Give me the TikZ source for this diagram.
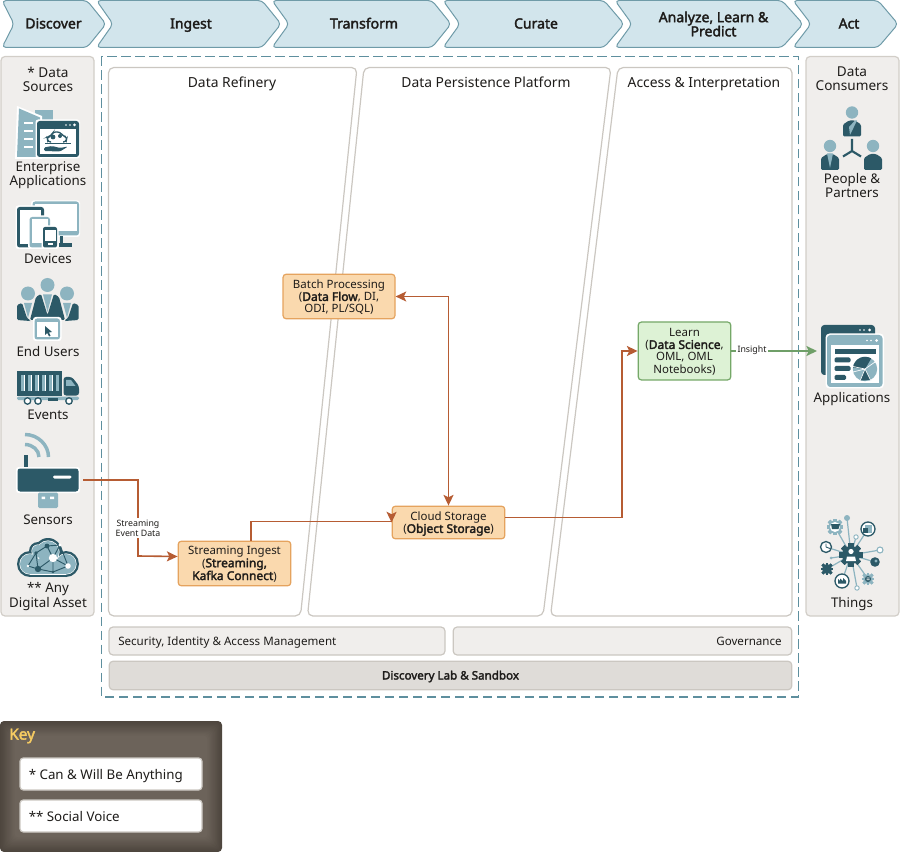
\documentclass[tikz,border=0pt]{standalone}
\usepackage{fontspec}
\setmainfont{Noto Sans}[BoldFont={Noto Sans},BoldFeatures={FakeBold=2.4}]
\usetikzlibrary{arrows.meta,calc}
\definecolor{chevfill}{HTML}{D2E5EC}
\definecolor{chevline}{HTML}{6F9BA8}
\definecolor{panelfill}{HTML}{F0EEEC}
\definecolor{panelline}{HTML}{D2CEC8}
\definecolor{darkteal}{HTML}{2C5967}
\definecolor{lightteal}{HTML}{8DB4C0}
\definecolor{dashteal}{HTML}{5E8F9E}
\definecolor{labfill}{HTML}{DFDCD8}
\definecolor{zoneline}{HTML}{CBC7C1}
\definecolor{orfill}{HTML}{FAD9AE}
\definecolor{orline}{HTML}{E5A35E}
\definecolor{grfill}{HTML}{DDF2D5}
\definecolor{grline}{HTML}{75A868}
\definecolor{arrowor}{HTML}{B65C33}
\definecolor{arrowgr}{HTML}{6F9F68}
\definecolor{keyout}{HTML}{4E463E}
\definecolor{keyin}{HTML}{6C635A}
\definecolor{keygold}{HTML}{F6CB62}
\definecolor{inktext}{HTML}{1E1C1A}
\newcommand{\downtext}[1]{\raisebox{-1.1pt}[\height][\depth]{\begin{tabular}{@{}c@{}}#1\end{tabular}}}
\newcommand{\boxbold}[1]{{\fontsize{9}{9}\selectfont\bfseries #1}}
\tikzset{
  chevron/.style={draw=chevline,fill=chevfill,line width=0.75pt,rounded corners=3pt,line join=round},
  chevtext/.style={font=\fontsize{10.5}{10.6}\selectfont\bfseries,align=center,inner sep=0pt,text=inktext},
  sidepanel/.style={draw=panelline,fill=panelfill,line width=0.9pt,rounded corners=3pt},
  zone/.style={draw=zoneline,fill=white,line width=0.9pt,rounded corners=4pt},
  zonetitle/.style={font=\fontsize{10.4}{11}\selectfont,inner sep=0pt,text=inktext,anchor=base},
  sidetitle/.style={font=\fontsize{10.2}{10.6}\selectfont,align=center,inner sep=0pt,text=inktext},
  iconlabel/.style={font=\fontsize{10}{10.6}\selectfont,align=center,inner sep=0pt,text=inktext},
  iconbase/.style={iconlabel,anchor=base},
  procbox/.style={draw=orline,fill=orfill,line width=0.9pt,rounded corners=2.5pt,inner sep=0pt,align=center,
     font=\fontsize{8.6}{9}\selectfont,text=inktext},
  learnbox/.style={procbox,draw=grline,fill=grfill},
  barbox/.style={draw=zoneline,fill=panelfill,line width=0.9pt,rounded corners=3pt,inner sep=0pt},
  bartext/.style={inner sep=0pt,font=\fontsize{8.7}{10}\selectfont,text=inktext,text height=6pt,text depth=0pt},
  labbox/.style={barbox,fill=labfill,font=\fontsize{8.7}{10}\selectfont\bfseries,text=inktext,text height=6pt,text depth=0pt},
  keybox/.style={draw=zoneline,fill=white,line width=0.9pt,rounded corners=2.5pt,inner sep=0pt},
  keytext/.style={anchor=west,inner sep=0pt,font=\fontsize{10}{11}\selectfont,text=inktext,text height=7.5pt,text depth=0pt},
  flow/.style={draw=arrowor,line width=1.2pt,-{Stealth[length=8pt,width=7.5pt,inset=1.8pt]}},
  flowtwo/.style={draw=arrowor,line width=1.2pt,{Stealth[length=8pt,width=7.5pt,inset=1.8pt]}-{Stealth[length=8pt,width=7.5pt,inset=1.8pt]}},
  flowgreen/.style={draw=arrowgr,line width=1.2pt,-{Stealth[length=8pt,width=7.5pt,inset=1.8pt]}},
  flowtag/.style={fill=white,inner sep=1pt,font=\fontsize{6.6}{7.4}\selectfont,align=center,text=inktext},
  dk/.style={fill=darkteal,draw=none},
  lt/.style={fill=lightteal,draw=none},
  wh/.style={fill=white,draw=none},
}
\newcommand{\headbody}[3]{%
  \fill[lt] (#1,#2) circle[radius=6.2];
  \fill[#3,rounded corners=1pt] (#1-9,#2+24) -- (#1-9,#2+12) -- (#1-3,#2+8) -- (#1+3,#2+8) -- (#1+9,#2+12) -- (#1+9,#2+24) -- cycle;
}
\newcommand{\gearshape}[4]{%
  \foreach \g in {0,45,...,315}{
    \fill[#4,shift={(#1,#2)},rotate=\g] (-#3*.28,-#3*1.28) rectangle (#3*.28,#3*1.28);
  }
  \fill[#4] (#1,#2) circle[radius=#3];
}
\newcommand{\cloudlayer}[2]{%
  \fill[#2] (30,564) circle[radius=13-#1] (66,564) circle[radius=13-#1] (48,552) circle[radius=14-#1] (38,551) circle[radius=9-#1];
  \fill[#2] (30,556+#1) rectangle (66,577-#1);
}
\begin{document}
\begin{tikzpicture}[x=0.75pt,y=-0.75pt]
\useasboundingbox (0,0) rectangle (900,852);
% chevrons
\draw[chevron] (2,0.5) -- (87,0.5) -- (106,24) -- (87,47.5) -- (2,47.5) -- (14,24) -- cycle;
\draw[chevron] (96.5,0.5) -- (262,0.5) -- (281,24) -- (262,47.5) -- (96.5,47.5) -- (113,24) -- cycle;
\draw[chevron] (272,0.5) -- (432,0.5) -- (451,24) -- (432,47.5) -- (272,47.5) -- (289,24) -- cycle;
\draw[chevron] (443,0.5) -- (604,0.5) -- (624,24) -- (604,47.5) -- (443,47.5) -- (460,24) -- cycle;
\draw[chevron] (615,0.5) -- (782,0.5) -- (803,24) -- (782,47.5) -- (615,47.5) -- (632,24) -- cycle;
\draw[chevron] (793,0.5) -- (878,0.5) -- (898,24) -- (878,47.5) -- (793,47.5) -- (811,24) -- cycle;
\node[chevtext,anchor=base] (tdiscover) at (53.5,28.5) {Discover};
\node[chevtext,anchor=base] (tingest) at (191,28.5) {Ingest};
\node[chevtext,anchor=base] (ttransform) at (364,28.5) {Transform};
\node[chevtext,anchor=base] (tcurate) at (536,28.5) {Curate};
\node[chevtext] (tanalyze) at (713.5,24) {Analyze, Learn \&\\Predict};
\node[chevtext,anchor=base] (tact) at (849,28.5) {Act};
% side panels
\draw[sidepanel] (1,56.5) rectangle (94,616);
\draw[sidepanel] (806,56.5) rectangle (899,616);
\node[sidetitle] (tsources) at (48,79) {* Data\\Sources};
\node[sidetitle] (tconsumers) at (852,79) {Data\\Consumers};
% dashed frame
\draw[dashteal,line width=0.85pt,dash pattern=on 7pt off 3.5pt] (101.5,56.5) rectangle (798.5,697);
% zones
\draw[zone] (108.5,67.5) -- (357,67.5) -- (300.5,616) -- (108.5,616) -- cycle;
\draw[zone] (364,67.5) -- (611,67.5) -- (543,616) -- (307.5,616) -- cycle;
\draw[zone] (618,67.5) -- (792,67.5) -- (792,616) -- (550.5,616) -- cycle;
\node[zonetitle] (trefinery) at (232,87.5) {Data Refinery};
\node[zonetitle] (tpersist) at (486,87.5) {Data Persistence Platform};
\node[zonetitle] (taccess) at (704,87.5) {Access \& Interpretation};
% bars
\node[barbox,minimum width=252pt,minimum height=21pt] (secbar) at (277,641) {};
\node[bartext,anchor=west] (sectext) at (118,641) {Security, Identity \& Access Management};
\node[barbox,minimum width=254pt,minimum height=21pt] (govbar) at (622.5,641) {};
\node[bartext,anchor=east] (govtext) at (782,641) {Governance};
\node[labbox,minimum width=512pt,minimum height=21.5pt] (labbar) at (450.5,675.5) {Discovery Lab \& Sandbox};
% key
\fill[keyout,rounded corners=3pt] (0,721) rectangle (222,852);
\foreach \i in {1,...,12}{
  \pgfmathtruncatemacro{\mixv}{\i*100/12}
  \fill[keyin!\mixv!keyout,rounded corners=3pt] (\i*1.2,721+\i*1.2) rectangle (222-\i*1.2,852-\i*1.2);
}
\node[anchor=west,inner sep=0pt,text=keygold,font=\fontsize{11.5}{12}\selectfont\bfseries] (tkey) at (9,736) {Key};
\node[keybox,minimum width=136.5pt,minimum height=24pt] (keya) at (111,774) {};
\node[keytext] (keyatext) at (28.5,774) {* Can \& Will Be Anything};
\node[keybox,minimum width=136.5pt,minimum height=24pt] (keyb) at (111,816) {};
\node[keytext] (keybtext) at (28.5,816) {** Social Voice};
% process boxes
\node[procbox,minimum width=84pt,minimum height=33.5pt] (batch) at (339,296.5) {\downtext{Batch Processing\\(\boxbold{Data Flow}, DI,\\ODI, PL/SQL)}};
\node[procbox,minimum width=84.5pt,minimum height=33.5pt] (ingest) at (234.5,563.5) {\downtext{Streaming Ingest\\(\boxbold{Streaming,}\\\boxbold{Kafka Connect})}};
\node[procbox,minimum width=84.5pt,minimum height=24.5pt] (cloud) at (448.5,522.5) {\downtext{Cloud Storage\\(\boxbold{Object Storage})}};
\node[learnbox,minimum width=69.5pt,minimum height=43.5pt] (learn) at (684.5,351) {\downtext{Learn\\(\boxbold{Data Science},\\OML, OML\\Notebooks)}};
% ICONS ------------------------------------------------
% enterprise applications
\fill[lt] (35,110) rectangle (53,140);
\fill[wh] (17,106) -- (42,116) -- (42,159) -- (15,159) -- cycle;
\fill[lt] (19,108.5) -- (40,117.5) -- (40,157) -- (17,157) -- cycle;
\foreach \yy in {122,130,138,146}{\fill[wh] (24,\yy) rectangle (33,\yy+1.8);}
\fill[wh,rounded corners=2pt] (35.5,119.5) rectangle (80,158.5);
\fill[dk,rounded corners=2pt] (37,121) rectangle (79,157);
\fill[wh] (40,129) rectangle (76,154);
\fill[wh] (66,125) circle[radius=.8] (70,125) circle[radius=.8] (74.5,125) circle[radius=1.5];
\draw[darkteal,line width=1pt,rounded corners=2pt] (51,142) -- (48,142) -- (47,137) -- (51,136) -- (53,132) -- (60,132) -- (63,136) -- (67,137) -- (66,142) -- (63,142);
\fill[dk] (53,137) circle[radius=2.4] (60,136) circle[radius=2];
\fill[dk] (45,143.5) rectangle (71,144.5);
\fill[dk,rounded corners=1pt] (44,151) -- (44,147.5) -- (52,146) -- (60,148) -- (68,146.5) -- (60,151.5) -- cycle;
% devices
\fill[wh,rounded corners=2pt] (31,200.5) rectangle (80,237);
\fill[lt,rounded corners=2pt] (32.5,201.5) rectangle (79,235.5);
\fill[wh] (35,204) rectangle (76.5,231);
\fill[dk] (59.5,236) rectangle (63,243);
\fill[dk] (59,243.5) rectangle (71.5,247.5);
\fill[wh,rounded corners=2pt] (15.5,205.5) rectangle (45.5,249);
\fill[dk,rounded corners=2pt] (17,207) rectangle (44,247.5);
\fill[wh] (20,210) rectangle (41,244);
\fill[wh,rounded corners=2pt] (28,215.5) rectangle (51.5,249);
\fill[lt,rounded corners=2pt] (29.5,217) rectangle (50,247.5);
\fill[wh] (31.5,219) rectangle (48,243.5);
\fill[wh,rounded corners=1.5pt] (41.5,225.5) rectangle (58.5,249);
\fill[dk,rounded corners=1.5pt] (43,227) rectangle (57,247.5);
\fill[wh] (44.5,230.5) rectangle (55.5,241.5);
\fill[wh] (47.5,243.5) rectangle (52.5,245.5);
% end users
\fill[lt] (28,293.5) circle[radius=7] (67,293.5) circle[radius=7] (47.5,285) circle[radius=7];
\fill[dk,rounded corners=1pt] (17,320) -- (17,305) -- (22,303) -- (27,318) -- (30,320) -- (30,321) -- cycle;
\fill[lt] (24,303) -- (32,303) -- (28,318) -- cycle;
\fill[dk,rounded corners=1pt] (78.5,320) -- (78.5,305) -- (73,303) -- (68,318) -- (65,320) -- (65,321) -- cycle;
\fill[lt] (71,303) -- (63,303) -- (67,318) -- cycle;
\fill[dk,rounded corners=1pt] (30,320) -- (36,297) -- (41,294) -- (47.5,315) -- (54,294) -- (59,297) -- (65,320) -- cycle;
\fill[lt] (43,294.5) -- (52,294.5) -- (47.5,312) -- cycle;
\fill[wh,rounded corners=2pt] (33,317) rectangle (61.5,341);
\fill[lt,rounded corners=2pt] (34.5,318.5) rectangle (60,339.5);
\fill[wh] (36.5,322.5) rectangle (58,337.5);
\fill[dk] (45,326) -- (45,335) -- (47.3,333) -- (49,336.5) -- (50.5,335.8) -- (49,332.5) -- (52,332) -- cycle;
% events truck
\fill[dk] (17,371) rectangle (62,395.5);
\foreach \xx in {20.5,27.5,34.5,41.5,48.5,55.5}{\fill[lt] (\xx,375) rectangle (\xx+3.6,391);}
\foreach \xx in {24,31,38,45,52}{\fill[wh] (\xx,375) rectangle (\xx+.9,391);}
\fill[dk,rounded corners=2pt] (63.5,377) -- (72,377) -- (79,386) -- (79,395.5) -- (63.5,395.5) -- cycle;
\fill[lt] (66,380) -- (71,380) -- (75.5,386) -- (66,386) -- cycle;
\fill[lt,rounded corners=1pt] (17,396.5) rectangle (79,400);
\draw[darkteal,line width=1pt,fill=white] (27.5,401) circle[radius=3.2] (38,401) circle[radius=3.2] (69,401) circle[radius=3.2];
\fill[dk] (48,398) rectangle (58,400.5);
% sensors
\draw[lightteal,line width=2.6pt] (25,434.5) .. controls (38,434.5) and (48.5,445) .. (48.5,457);
\draw[lightteal,line width=2.6pt] (25,444.5) .. controls (32.5,444.5) and (39,450) .. (39,457);
\fill[dk] (24.2,455) rectangle (28.2,469);
\fill[wh,rounded corners=2pt] (16,467) rectangle (80,493);
\fill[dk,rounded corners=2pt] (17.5,468.5) rectangle (78.5,491.5);
\fill[wh,rounded corners=1pt] (53,475.5) rectangle (71.5,478.5);
\fill[lt,rounded corners=1pt] (38,492.5) rectangle (58,508);
\fill[wh] (41.5,496.5) rectangle (45,499) (50,496.5) rectangle (54,499);
% digital asset
\cloudlayer{0}{dk}
\cloudlayer{2.4}{wh}
\cloudlayer{3}{lt}
\draw[darkteal,line width=.7pt] (53,558) -- (47,546) -- (36,553) -- (38,569) -- (53,558) -- (60,545) -- (47,546) (53,558) -- (68,566) -- (53,572) -- (38,569) (28,566) -- (36,553) (28,566) -- (38,569) (60,545) -- (68,566) (53,558) -- (53,572);
\fill[dk] (38,569) circle[radius=3.2] (47,546) circle[radius=2.4] (36,553) circle[radius=1.8] (53,572) circle[radius=1.3];
\fill[wh] (53,558) circle[radius=4.2] (68,566) circle[radius=2.8] (28,566) circle[radius=1.4] (60,545) circle[radius=1.6];
% people and partners
\headbody{852}{112.5}{dk}
\fill[lt] (849,127) -- (855,120.5) -- (857,120.5) -- (850,135) -- cycle;
\headbody{830}{146}{dk}
\fill[lt] (827,153.5) -- (833,153.5) -- (830,168) -- cycle;
\headbody{873}{146}{dk}
\draw[darkteal,line width=1.6pt] (852,151) -- (852,139) (852,151) -- (843,156.5) (852,151) -- (861,156.5);
% applications
\fill[dk,rounded corners=2.5pt] (821,325) rectangle (875,375);
\fill[wh] (860,330) circle[radius=.9] (864,330) circle[radius=.9] (869.5,330) circle[radius=1.5];
\fill[wh,rounded corners=3pt] (825.5,333.5) rectangle (884,388.5);
\fill[lt,rounded corners=2.5pt] (827,335) rectangle (882.5,387);
\fill[wh] (831,345) rectangle (879,383);
\fill[wh] (867,340.5) circle[radius=.9] (871,340.5) circle[radius=.9] (876.5,340.5) circle[radius=1.5];
\fill[dk] (834.5,349) rectangle (876,354);
\fill[dk,rounded corners=1pt] (834.5,357.5) rectangle (850.5,362.5) (834.5,366) rectangle (850.5,371) (834.5,375) rectangle (846,380);
\fill[lt] (865,369) circle[radius=12.2];
\fill[dk] (865,369) -- (853,367.5) arc[start angle=187,end angle=300,radius=12.2] -- cycle;
\fill[dk] (865,369) -- (860,380.5) -- (871,380) -- cycle;
\draw[white,line width=.5pt] (865,369) -- (853,366.5) (865,369) -- (853,372) (865,369) -- (860,381) (865,369) -- (871,381) (865,369) -- (875,362);
% things
\draw[lightteal,line width=.9pt] (851,555) -- (847,518) (851,555) -- (835,527) (851,555) -- (868,529) (851,555) -- (826,547) (851,555) -- (880,550) (851,555) -- (875,562) (851,555) -- (827,569) (851,555) -- (842,581) (851,555) -- (868,579) (851,555) -- (856,537) (851,555) -- (831,558) (851,555) -- (857,588);
\gearshape{851}{555}{9}{dk}
\fill[wh] (851,551.5) circle[radius=2.6];
\fill[wh] (846,561) -- (847,556.5) -- (855,556.5) -- (856,561) -- cycle;
\gearshape{835}{527}{6.5}{lt}
\fill[wh] (835,527) circle[radius=5];
\fill[dk] (831,524) -- (840,524) -- (838.5,529) -- (832,529) -- cycle;
\fill[lt] (847,518) circle[radius=3];
\draw[darkteal,line width=1pt,fill=white] (868,529) circle[radius=7];
\fill[lt] (865,525) rectangle (872,533);
\fill[dk] (862.5,528) rectangle (868,533);
\draw[darkteal,line width=1pt,fill=white] (826,547) circle[radius=5.5];
\draw[darkteal,line width=.7pt] (826,547) -- (826,543.5) (826,547) -- (830,548.5);
\draw[lightteal,line width=.8pt,fill=white] (880,550) circle[radius=3];
\fill[dk] (875,562) circle[radius=4.8];
\fill[lt] (876,561) circle[radius=1.7];
\gearshape{827}{569}{5}{dk}
\draw[darkteal,line width=1pt,fill=white] (842,581) circle[radius=7];
\fill[dk] (838,583.5) -- (838,579) -- (840,581) -- (840,578.5) -- (843,581) -- (843,578) -- (846,581) -- (846,583.5) -- cycle;
\gearshape{868}{579}{5}{lt}
\fill[dk] (868,579) circle[radius=3];
\fill[wh] (866.5,577.5) rectangle (869.5,578.3) (866.5,579.3) rectangle (869.5,580.1);
\draw[lightteal,line width=.7pt,fill=white] (856,537) circle[radius=2.2] (857,588) circle[radius=2.2];
\fill[lt] (831,558) circle[radius=1.5];
% icon labels
\node[iconlabel] (lentapp) at (48,175.5) {Enterprise\\Applications};
\node[iconbase] (ldevices) at (48,263.7) {Devices};
\node[iconbase] (lusers) at (48,356.7) {End Users};
\node[iconbase] (levents) at (48,419.2) {Events};
\node[iconbase] (lsensors) at (48,524) {Sensors};
\node[iconlabel] (lasset) at (48,596.5) {** Any\\Digital Asset};
\node[iconlabel] (lpeople) at (852,185.5) {People \&\\Partners};
\node[iconbase] (lapps) at (852,402.2) {Applications};
\node[iconbase] (lthings) at (852,607) {Things};
% connectors
\coordinate (sensorout) at (83,480);
\coordinate (appsin) at (817,351);
\draw[flow] (sensorout) -- (138,480) -- (138,556) -- ([yshift=5.25pt]ingest.west);
\node[flowtag] (streamtag) at (138,528) {Streaming\\Event Data};
\draw[flow] ([xshift=12.4pt]ingest.north) -- ++(0,14.25pt) -| (cloud.west);
\draw[flowtwo] (batch.east) -| (cloud.north);
\draw[flow] ([yshift=3.8pt]cloud.east) -| (622,351) -- (learn.west);
\draw[flowgreen] (learn.east) -- (appsin);
\node[flowtag] (insighttag) at (752,350) {Insight};
\end{tikzpicture}
\end{document}
